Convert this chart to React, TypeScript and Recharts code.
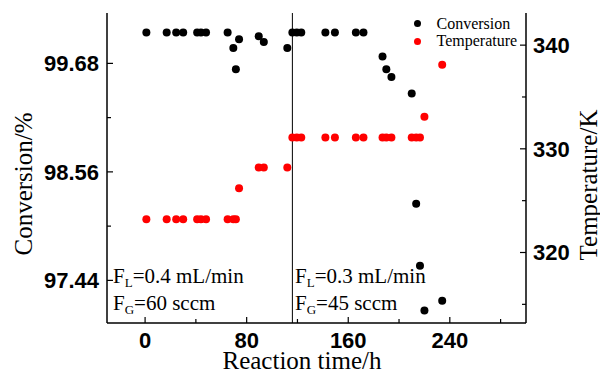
import {
  ScatterChart,
  Scatter,
  XAxis,
  YAxis,
  ReferenceLine,
  Legend,
} from "recharts";

// reaction time (h) shared by both series
const times = [
  1, 17, 24.5, 30, 41, 44, 48, 65, 69.5, 71.5, 74, 89.5, 93.5, 112, 116, 119.5,
  123, 142, 149.5, 166, 172, 187, 190, 194, 210, 213.5, 216.5, 220, 234,
];

// conversion (%)
const conversion = [
  100, 100, 100, 100, 100, 100, 100, 100, 99.84, 99.62, 99.93, 99.96, 99.9,
  99.84, 100, 100, 100, 100, 100, 100, 100, 99.75, 99.62, 99.54, 99.37, 98.23,
  97.59, 97.13, 97.23,
];

// temperature (K)
const temperature = [
  323.2, 323.2, 323.2, 323.2, 323.2, 323.2, 323.2, 323.2, 323.2, 323.2, 326.2,
  328.2, 328.2, 328.2, 331.1, 331.1, 331.1, 331.1, 331.1, 331.1, 331.1, 331.1,
  331.1, 331.1, 331.1, 331.1, 331.1, 333.1, 338.1,
];

const xTicks = [0, 40, 80, 120, 160, 200, 240, 280];
const xMajor = [0, 80, 160, 240];
const leftTicks = [97.44, 98.0, 98.56, 99.12, 99.68];
const leftMajor = [97.44, 98.56, 99.68];
const rightTicks = [315, 320, 325, 330, 335, 340];
const rightMajor = [320, 330, 340];

const convData = times.map((t, i) => ({ t, v: conversion[i] }));
const tempData = times.map((t, i) => ({ t, v: temperature[i] }));

const tickFont = {
  fontFamily: "'Liberation Sans', Arial, sans-serif",
  fontWeight: 700,
  fontSize: 22,
  fill: "#000",
};
const serif = "'Liberation Serif', 'Times New Roman', serif";

const XTick = (props: any) => {
  const { x, y, payload } = props;
  const major = xMajor.includes(payload.value);
  return (
    <g>
      <line x1={x} x2={x} y1={y} y2={y - (major ? 6 : 4)} stroke="#000" strokeWidth={1.2} />
      {major && (
        <text x={x} y={y + 25} textAnchor="middle" {...tickFont}>
          {payload.value}
        </text>
      )}
    </g>
  );
};

const LeftTick = (props: any) => {
  const { x, y, payload } = props;
  const major = leftMajor.includes(payload.value);
  return (
    <g>
      <line x1={x} x2={x + (major ? 6 : 4)} y1={y} y2={y} stroke="#000" strokeWidth={1.2} />
      {major && (
        <text x={x - 8} y={y + 8} textAnchor="end" {...tickFont}>
          {payload.value.toFixed(2)}
        </text>
      )}
    </g>
  );
};

const RightTick = (props: any) => {
  const { x, y, payload } = props;
  const major = rightMajor.includes(payload.value);
  return (
    <g>
      <line x1={x} x2={x - (major ? 6 : 4)} y1={y} y2={y} stroke="#000" strokeWidth={1.2} />
      {major && (
        <text x={x + 7} y={y + 8} textAnchor="start" {...tickFont}>
          {payload.value}
        </text>
      )}
    </g>
  );
};

const dot = (color: string) => (props: any) =>
  <circle cx={props.cx} cy={props.cy} r={4} fill={color} />;

const renderLegend = () => (
  <div style={{ fontFamily: serif, fontSize: 16, color: "#000" }}>
    {[
      { name: "Conversion", color: "#000" },
      { name: "Temperature", color: "#ff0000" },
    ].map((it) => (
      <div key={it.name} style={{ display: "flex", alignItems: "center", height: 17.4 }}>
        <span
          style={{
            width: 7,
            height: 7,
            borderRadius: "50%",
            background: it.color,
            marginRight: 16,
          }}
        />
        <span style={{ lineHeight: "17.4px" }}>{it.name}</span>
      </div>
    ))}
  </div>
);

const Sub = ({ main, sub, rest, x, y }: any) => (
  <text x={x} y={y} fontFamily={serif} fontSize={21} fill="#000">
    {main}
    <tspan fontSize={13} dy={4}>{sub}</tspan>
    <tspan dy={-4}>{rest}</tspan>
  </text>
);

export default function App() {
  return (
    <div style={{ position: "absolute", left: 0, top: 0, width: 600, height: 374, background: "#fff" }}>
      <ScatterChart width={600} height={374} margin={{ top: 13, right: 0, bottom: 0, left: 0 }}>
        <XAxis
          xAxisId="top"
          orientation="top"
          type="number"
          dataKey="t"
          domain={[-30, 300]}
          height={0}
          tick={false}
          tickLine={false}
          axisLine={{ stroke: "#000", strokeWidth: 1.5 }}
        />
        <XAxis
          type="number"
          dataKey="t"
          domain={[-30, 300]}
          ticks={xTicks}
          interval={0}
          height={51}
          tickSize={0}
          tickMargin={0}
          tickLine={false}
          tick={<XTick />}
          axisLine={{ stroke: "#000", strokeWidth: 1.5 }}
          label={{
            content: () => (
              <text x={302} y={369} textAnchor="middle" fontFamily={serif} fontSize={25} fill="#000">
                Reaction time/h
              </text>
            ),
          }}
        />
        <YAxis
          yAxisId="left"
          type="number"
          dataKey="v"
          domain={[97.0, 100.2]}
          ticks={leftTicks}
          interval={0}
          width={107}
          tickSize={0}
          tickMargin={0}
          tickLine={false}
          tick={<LeftTick />}
          axisLine={{ stroke: "#000", strokeWidth: 1.5 }}
          allowDataOverflow
          label={{
            content: () => (
              <text
                x={32}
                y={184}
                transform="rotate(-90, 32, 184)"
                textAnchor="middle"
                fontFamily={serif}
                fontSize={25}
                fill="#000"
              >
                Conversion/%
              </text>
            ),
          }}
        />
        <YAxis
          yAxisId="right"
          orientation="right"
          type="number"
          dataKey="v"
          domain={[313.2, 343.1]}
          ticks={rightTicks}
          interval={0}
          width={74}
          tickSize={0}
          tickMargin={0}
          tickLine={false}
          tick={<RightTick />}
          axisLine={{ stroke: "#000", strokeWidth: 1.5 }}
          allowDataOverflow
          label={{
            content: () => (
              <text
                x={597}
                y={185}
                transform="rotate(-90, 597, 185)"
                textAnchor="middle"
                fontFamily={serif}
                fontSize={25}
                fill="#000"
              >
                Temperature/K
              </text>
            ),
          }}
        />
        <ReferenceLine x={116} yAxisId="left" stroke="#000" strokeWidth={1} />
        <Scatter
          name="Conversion"
          data={convData}
          yAxisId="left"
          fill="#000"
          shape={dot("#000")}
          isAnimationActive={false}
        />
        <Scatter
          name="Temperature"
          data={tempData}
          yAxisId="right"
          fill="#ff0000"
          shape={dot("#ff0000")}
          isAnimationActive={false}
        />
        <Legend
          layout="horizontal"
          align="center"
          verticalAlign="middle"
          content={renderLegend}
          wrapperStyle={{ left: 413.5, top: 15, width: "auto", margin: 0 }}
        />
      </ScatterChart>
      <svg
        width={600}
        height={374}
        style={{ position: "absolute", left: 0, top: 0, pointerEvents: "none" }}
      >
        <Sub x={113} y={283} main="F" sub="L" rest="=0.4 mL/min" />
        <Sub x={113} y={310} main="F" sub="G" rest="=60 sccm" />
        <Sub x={295} y={283} main="F" sub="L" rest="=0.3 mL/min" />
        <Sub x={295} y={310} main="F" sub="G" rest="=45 sccm" />
      </svg>
    </div>
  );
}
